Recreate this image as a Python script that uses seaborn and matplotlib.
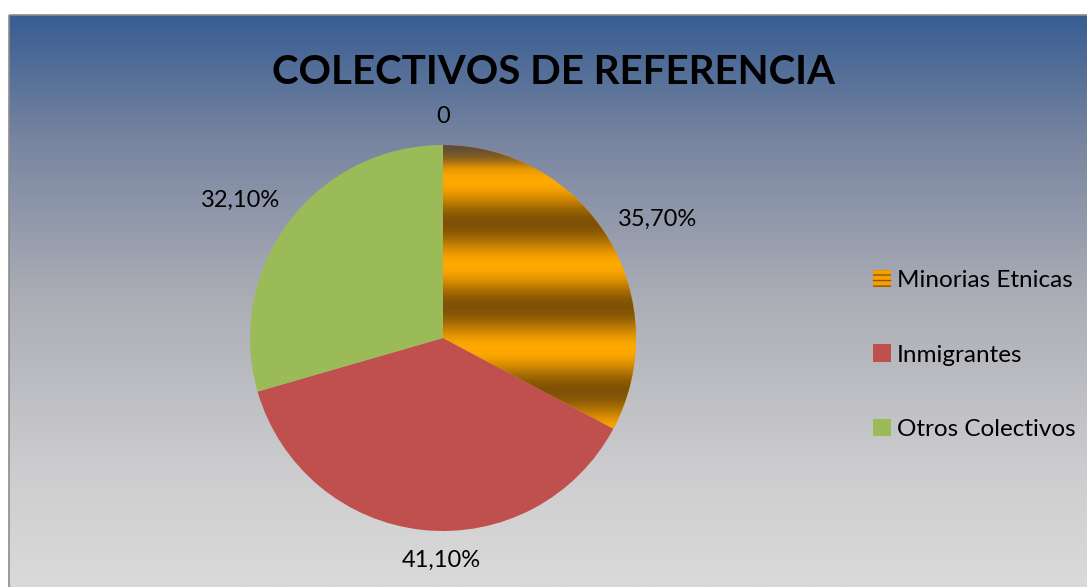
import numpy as np
import matplotlib
matplotlib.use("Agg")
import matplotlib.pyplot as plt
from matplotlib.patches import Patch, Rectangle
from matplotlib.colors import LinearSegmentedColormap
import seaborn as sns

# ---- data ----
categories = ["", "Minorias Etnicas", "Inmigrantes", "Otros Colectivos"]
values = [0.0, 35.7, 41.1, 32.1]
value_labels = ["0", "35,70%", "41,10%", "32,10%"]
title = "COLECTIVOS DE REFERENCIA"

colors = ["#FFA500", "#F5A000", "#C0504D", "#9BBB59"]

sns.set_theme(style="white")
plt.rcParams["font.family"] = ["Lato", "DejaVu Sans"]
plt.rcParams["hatch.color"] = "#8a5a00"
plt.rcParams["text.color"] = "black"

W, H = 1087, 587
fig = plt.figure(figsize=(W / 100, H / 100), dpi=100)
fig.patch.set_facecolor("white")

# background gradient (chart area)
bg = fig.add_axes([0, 0, 1, 1])
bg.set_xlim(0, W)
bg.set_ylim(H, 0)
bg.axis("off")
stops = [(0.0, (56/255, 93/255, 146/255)),
         (0.22, (120/255, 133/255, 160/255)),
         (0.5, (172/255, 174/255, 182/255)),
         (0.8, (205/255, 205/255, 207/255)),
         (1.0, (218/255, 218/255, 218/255))]
cmap_bg = LinearSegmentedColormap.from_list("bg", stops)
grad = np.linspace(0, 1, 256).reshape(-1, 1)
bg.imshow(grad, cmap=cmap_bg, aspect="auto", extent=[9, W, H, 15], zorder=0)
bg.add_patch(Rectangle((9, 15), W, H, fill=False, edgecolor="#8c8c8c", lw=1.2, zorder=1))

# pie
cx, cy, r = 443, 338, 193
ax = fig.add_axes([(cx - r) / W, (H - cy - r) / H, 2 * r / W, 2 * r / H])
wedges, _ = ax.pie(values, colors=colors, startangle=90, counterclock=False,
                   wedgeprops=dict(linewidth=0))
ax.set_xlim(-1, 1)
ax.set_ylim(-1, 1)
ax.set_aspect("equal")
ax.axis("off")

# striped fill for Minorias Etnicas
ys = np.linspace(1, -1, 600).reshape(-1, 1)
t = 0.5 + 0.5 * np.cos(2 * np.pi * (ys - 0.161) / 0.435)
orange = np.array([1.0, 0.66, 0.0])
brown = np.array([0.50, 0.32, 0.02])
img = (1 - t)[..., None] * orange + t[..., None] * brown
img = np.repeat(img, 2, axis=1)
top = np.clip((ys - 0.88) / 0.12, 0, 1)[..., None]
img = img * (1 - top) + top * np.array([0.36, 0.30, 0.25])
im = ax.imshow(img, extent=[-1, 1, -1, 1], aspect="auto", zorder=3, interpolation="bilinear")
im.set_clip_path(wedges[1])

# value labels
dists = [1.15, 1.27, 1.15, 1.27]
ang_off = [0, -2.0, 0, 2.7]
for w, lab, d, o in zip(wedges, value_labels, dists, ang_off):
    ang = np.deg2rad((w.theta1 + w.theta2) / 2 + o)
    if lab == "41,10%":
        ang = np.deg2rad(-90.5)
    ax.text(d * np.cos(ang), d * np.sin(ang), lab, ha="center", va="center",
            fontsize=17, color="black", clip_on=False)

fig.text(553 / W, 1 - 72 / H, title, ha="center", va="center", fontsize=29,
         fontweight="bold", color="black")

handles = [Patch(facecolor="#F5A000", edgecolor="#8a5a00", hatch="---", lw=0),
           Patch(facecolor=colors[2], lw=0),
           Patch(facecolor=colors[3], lw=0)]
leg = fig.legend(handles, categories[1:], loc="center left",
                 bbox_to_anchor=(873 / W, 1 - 355 / H), frameon=False,
                 fontsize=17.5, handlelength=0.72, handleheight=0.72,
                 handletextpad=0.25, labelspacing=2.2, borderpad=0,
                 borderaxespad=0, labelcolor="black")

fig.savefig("out.png", dpi=100, facecolor="white")
